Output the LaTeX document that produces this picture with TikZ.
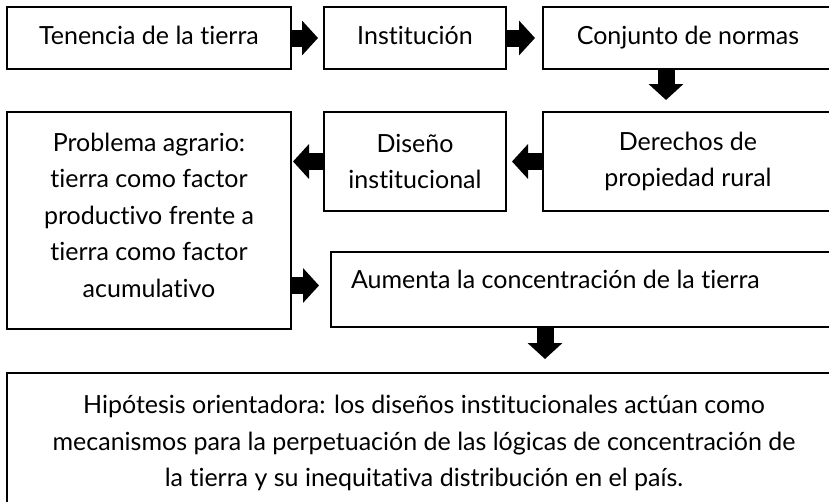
\documentclass[tikz,border=0pt]{standalone}
\usepackage{fontspec}
\setmainfont{Lato}[Ligatures=NoCommon]
\usetikzlibrary{arrows.meta}

\begin{document}
\begin{tikzpicture}[x=1pt, y=-1pt,
  box/.style={draw, line width=1.6pt, anchor=north west, inner sep=0pt,
    outer sep=0pt, align=center, font=\fontsize{25pt}{36.5pt}\selectfont},
  onebox/.style={box, text height=37pt, text depth=25pt},
  blockarrow/.style={line width=17pt, -{Triangle[length=16pt 0 0, width=34pt 0 0]}}
]

% the page
\useasboundingbox (0,0) rectangle (829,501);
\clip (0,0) rectangle (829,501);
\fill[white] (0,0) rectangle (829,501);

% first row
\node[onebox, minimum width=284pt] (tenencia) at (7,7) {Tenencia de la tierra};
\node[onebox, minimum width=182pt] (institucion) at (324,7) {Institución};
\node[onebox, minimum width=290pt] (normas) at (543,7) {Conjunto de normas};

% second row
\node[box, minimum width=290pt, minimum height=99pt] (derechos) at (543,112) {Derechos de\\propiedad rural};
\node[box, minimum width=182pt, minimum height=99pt] (diseno) at (324,112) {Diseño\\institucional};
\node[box, minimum width=284pt, minimum height=217pt] (problema) at (7,112)
  {Problema agrario:\\tierra como factor\\productivo frente a\\tierra como factor\\acumulativo\rule[-11pt]{0pt}{0pt}};

% the concentration box, text on top
\node[box, align=flush left, text width=460pt, inner xsep=20pt, text height=36pt, text depth=39pt]
  (aumenta) at (331,252) {Aumenta la concentración de la tierra};

% the hypothesis
\node[box, minimum width=834pt, minimum height=140pt] (hipotesis) at (7,373)
  {Hipótesis orientadora: los diseños institucionales actúan como\\mecanismos para la perpetuación de las lógicas de concentración de\\la tierra y su inequitativa distribución en el país.};

% the arrows
\draw[blockarrow, shorten >=6pt] (tenencia.east) -- (institucion.west);
\draw[blockarrow, shorten >=8pt] (institucion.east) -- (normas.west);
\draw[blockarrow, shorten >=12pt] ([xshift=-22pt]normas.south) -- ([xshift=-22pt]normas.south |- derechos.north);
\draw[blockarrow, shorten >=6pt] (derechos.west) -- (diseno.east);
\draw[blockarrow, shorten >=2pt] (diseno.west) -- (diseno.west -| problema.east);
\draw[blockarrow, shorten >=12pt] ([yshift=4pt]aumenta.west -| problema.east) -- ([yshift=4pt]aumenta.west);
\draw[blockarrow, shorten >=14pt] ([xshift=-36pt]aumenta.south) -- ([xshift=-36pt]aumenta.south |- hipotesis.north);

\end{tikzpicture}
\end{document}
